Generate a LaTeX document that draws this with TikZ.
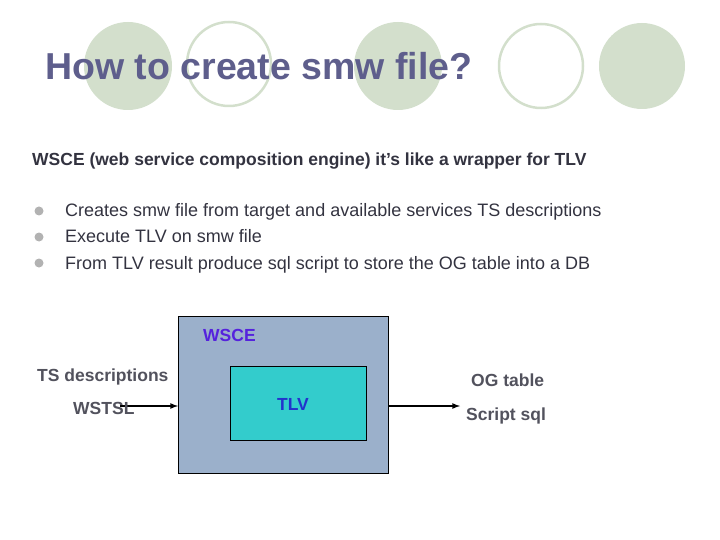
\documentclass[tikz,border=0pt]{standalone}
\usepackage{fontspec}
\setmainfont{Liberation Sans}
\definecolor{circ}{HTML}{D3DFCC}
\definecolor{ttl}{HTML}{5E5E8C}
\definecolor{txt}{HTML}{333340}
\definecolor{outer}{HTML}{9BB0CB}
\definecolor{inner}{HTML}{33CCCC}
\definecolor{wsce}{HTML}{5522DD}
\definecolor{tlv}{HTML}{2233CC}
\begin{document}
\begin{tikzpicture}[x=1pt,y=-1pt,
  lbl/.style={font=\fontsize{17.5}{20}\selectfont\bfseries, text=txt!85, inner sep=0},
  body/.style={font=\fontsize{18}{21}\selectfont, text=txt, inner sep=0, anchor=base west}]
\useasboundingbox (0,0) rectangle (720,540);
\fill[circ] (128,66) circle (44);
\draw[circ, line width=2.5] (229,64) circle (42);
\fill[circ] (398,66) circle (44);
\draw[circ, line width=2.5] (541,66) circle (42);
\fill[circ] (642,66) circle (43);
\node[anchor=base west, inner sep=0, text=ttl, font=\fontsize{37.5}{42}\selectfont\bfseries] (title) at (45,80) {How to create smw file?};
\node[body, font=\fontsize{17.5}{21}\selectfont\bfseries] (intro) at (32,166) {WSCE (web service composition engine) it’s like a wrapper for TLV};
\foreach \y/\t [count=\i] in {217/Creates smw file from target and available services TS descriptions,
  243/Execute TLV on smw file,
  269/From TLV result produce sql script to store the OG table into a DB}{
  \fill[gray!60] (39,\y-6) circle (4.5);
  \node[body] (b\i) at (65,\y) {\t};
}
\node[draw=black, fill=outer, minimum width=210, minimum height=157, inner sep=0, anchor=north west] (wsce) at (178,316) {};
\node[draw=black, fill=inner, minimum width=136, minimum height=74, inner sep=0, anchor=north west] (tlvbox) at (230,366) {};
\node[lbl, text=wsce, anchor=base west] (wl) at (203,341) {WSCE};
\node[lbl, text=tlv] (tl) at (293,404) {TLV};
\coordinate (in) at (120,406);
\coordinate (out) at (460,406);
\draw[line width=1.6, -latex] (in) -- (wsce.west |- in);
\draw[line width=1.6, -latex] (wsce.east |- out) -- (out);
\node[lbl, anchor=base west] (ts) at (37,381) {TS descriptions};
\node[lbl, anchor=base west] (ws) at (73,414) {WSTSL};
\node[lbl, anchor=base west] (og) at (471,386) {OG table};
\node[lbl, anchor=base west] (sq) at (466,420) {Script sql};
\end{tikzpicture}
\end{document}
